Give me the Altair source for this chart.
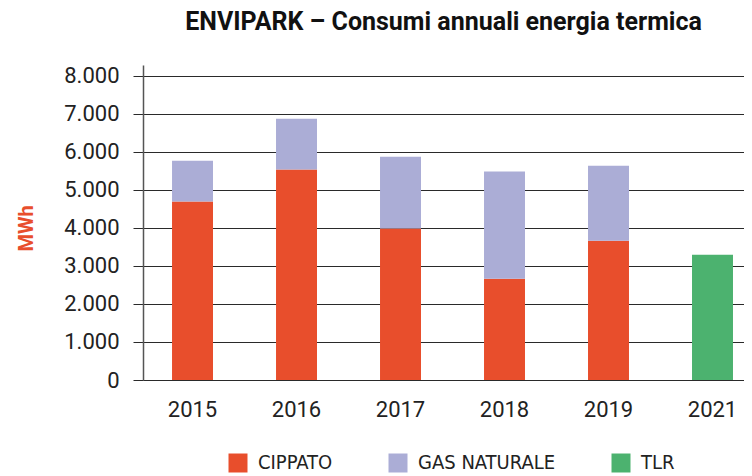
import altair as alt
import pandas as pd

years = ["2015", "2016", "2017", "2018", "2019", "2021"]
cippato = [4690, 5530, 3980, 2660, 3660, None]
gas_naturale = [1070, 1340, 1890, 2820, 1970, None]
tlr = [None, None, None, None, None, 3290]
series = ["CIPPATO", "GAS NATURALE", "TLR"]
colors = ["#E84E2C", "#ABADD6", "#4CB26F"]
y_ticks = [0, 1000, 2000, 3000, 4000, 5000, 6000, 7000, 8000]

rows = []
for i, yr in enumerate(years):
    for s, vals in zip(series, [cippato, gas_naturale, tlr]):
        if vals[i] is not None:
            rows.append({"anno": yr, "fonte": s, "valore": vals[i], "ordine": series.index(s)})
df = pd.DataFrame(rows)

TICK_FONT = "Roboto"
NARROW = "Liberation Sans Narrow, DejaVu Sans Condensed, Roboto"
GRID = "#2a2a2a"

chart = alt.Chart(df).mark_bar().encode(
    x=alt.X("anno:N", sort=years,
            scale=alt.Scale(paddingInner=0.606, paddingOuter=0.1925, align=0.725),
            axis=alt.Axis(title=None, labelAngle=0, ticks=False, labelPadding=19,
                          labelFont=TICK_FONT, labelFontSize=22, labelColor="#222",
                          domainColor=GRID, domainWidth=1)),
    y=alt.Y("valore:Q", stack="zero",
            scale=alt.Scale(domain=[0, 8280], nice=False),
            axis=alt.Axis(title="MWh", values=y_ticks,
                          labelExpr="replace(format(datum.value, ','), ',', '.')",
                          labelFont=TICK_FONT, labelFontSize=22, labelColor="#222",
                          labelPadding=14, tickSize=10, tickColor=GRID, tickWidth=1,
                          domainColor="#555", domainWidth=1.5,
                          grid=True, gridColor=GRID, gridWidth=1,
                          titleFont=TICK_FONT, titleFontSize=20, titleFontWeight="bold",
                          titleColor="#E84E2C", titleAngle=270, titleX=-117, titleY=163,
                          titleAlign="center", titleBaseline="middle")),
    color=alt.Color("fonte:N", scale=alt.Scale(domain=series, range=colors),
                    legend=alt.Legend(title=None, orient="none", direction="horizontal",
                                      legendX=85, legendY=388, padding=0,
                                      symbolType="square", symbolSize=361, symbolStrokeWidth=0,
                                      symbolOpacity=1,
                                      labelFont=NARROW, labelFontSize=20, labelColor="#222",
                                      labelOffset=10, columnPadding=55)),
    order=alt.Order("ordine:Q", sort="ascending"),
).properties(
    width=601, height=315,
    autosize="none",
    padding={"left": 135, "top": 57, "right": 0, "bottom": 110},
    title=alt.TitleParams("ENVIPARK – Consumi annuali energia termica",
                          font=TICK_FONT, fontSize=25, fontWeight="bold", color="#111",
                          anchor="middle", offset=30),
).configure_view(stroke=None)

chart.save("out.html", embed_options={"renderer": "svg", "actions": False})
